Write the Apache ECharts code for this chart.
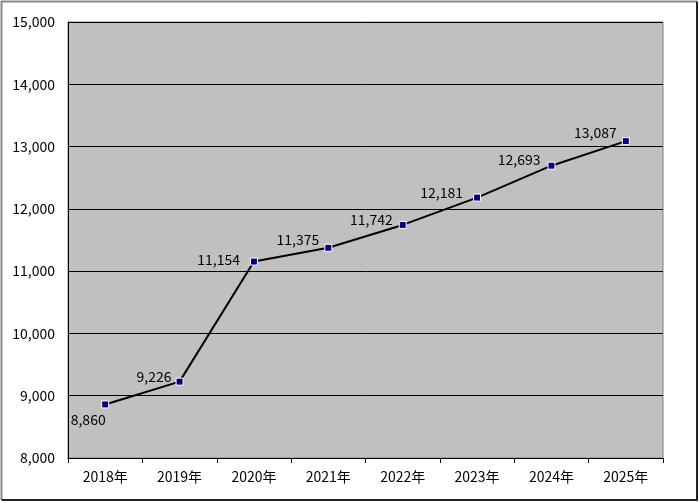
<!DOCTYPE html>
<html><head><meta charset="utf-8">
<script src="https://cdn.jsdelivr.net/npm/echarts@6/dist/echarts.min.js"></script>
<style>html,body{margin:0;padding:0;background:#fff}#c{width:700px;height:503px}</style>
</head><body><div id="c"></div>
<script>
var categories = ['2018年','2019年','2020年','2021年','2022年','2023年','2024年','2025年'];
var values = [8860, 9226, 11154, 11375, 11742, 12181, 12693, 13087];
var yTicks = [8000, 9000, 10000, 11000, 12000, 13000, 14000, 15000];
var labelOffsets = [[-17, -1], [1, -5], [-5, -2], [0, -8], [-1, -5], [-5, -5], [-2, -6], [0, -8]];

var font = '"Noto Sans CJK JP", "Liberation Sans", sans-serif';
var chart = echarts.init(document.getElementById('c'), null, {renderer: 'canvas'});
chart.setOption({
  animation: false,
  backgroundColor: '#fff',
  graphic: [{
    type: 'polyline', z: -1,
    shape: {points: [[1.5, 500], [1.5, 1.5], [697, 1.5]]},
    style: {stroke: '#888', lineWidth: 2, fill: 'none'}
  }, {
    type: 'polyline', z: -1,
    shape: {points: [[697, 1.5], [697, 500], [1.5, 500]]},
    style: {stroke: '#222', lineWidth: 2, fill: 'none'}
  }],
  grid: {left: 68, top: 22, right: 37, bottom: 45, show: true,
         backgroundColor: '#c0c0c0', borderColor: '#808080', borderWidth: 1},
  xAxis: {
    type: 'category', data: categories, boundaryGap: true,
    axisLine: {lineStyle: {color: '#000', width: 1}},
    axisTick: {show: true, inside: false, length: 5, lineStyle: {color: '#000'}},
    axisLabel: {color: '#000', fontSize: 14, fontFamily: font, margin: 12}
  },
  yAxis: {
    type: 'value', min: yTicks[0], max: yTicks[yTicks.length - 1], interval: 1000,
    axisLine: {show: true, lineStyle: {color: '#000', width: 1}},
    axisTick: {show: false},
    splitLine: {lineStyle: {color: '#000', width: 1}},
    axisLabel: {color: '#000', fontSize: 14, fontFamily: font, margin: 13,
      formatter: function (v) { return v.toLocaleString('en-US'); }}
  },
  series: [{
    type: 'line',
    data: values.map(function (v, i) {
      return {value: v, label: {offset: labelOffsets[i], position: i === 0 ? 'bottom' : 'left'}};
    }),
    symbol: 'rect', symbolSize: 7,
    itemStyle: {color: '#000080', borderColor: '#fff', borderWidth: 1},
    lineStyle: {color: '#000', width: 2},
    label: {show: true, color: '#000', fontSize: 14, fontFamily: font,
      formatter: function (p) { return p.value.toLocaleString('en-US'); }}
  }]
});
</script></body></html>
